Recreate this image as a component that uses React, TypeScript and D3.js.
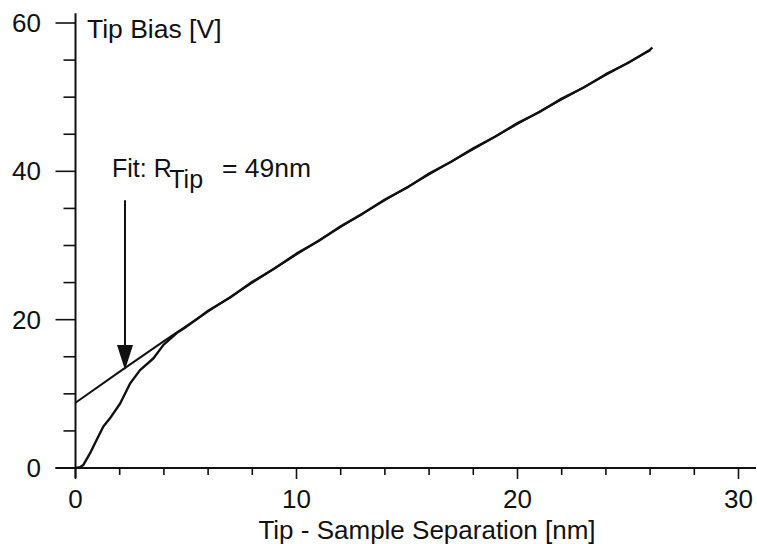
import React, { useEffect, useRef } from 'react';
import * as d3 from 'd3';

// measured tip bias vs separation
const sepData = [0, 0.2, 0.35, 0.66, 0.96, 1.26, 1.56, 2.02, 2.47, 2.92, 3.53, 3.98, 4.58, 4.9, 5.5, 6, 7, 8, 9, 10, 11, 12, 13, 14, 15, 16, 17, 18, 19, 20, 21, 22, 23, 24, 25, 26, 26.1];
const biasData = [0, 0.1, 0.4, 2.0, 3.8, 5.6, 6.7, 8.7, 11.4, 13.2, 14.8, 16.6, 18.2, 18.8, 20.1, 21.2, 23.0, 25.1, 26.9, 28.9, 30.6, 32.6, 34.3, 36.2, 37.8, 39.7, 41.3, 43.1, 44.7, 46.5, 48.0, 49.8, 51.3, 53.1, 54.6, 56.4, 56.7];

// fitted curve (R_tip = 49nm)
const fitSep = [0, 2, 4, 6, 8, 10, 12, 14, 16, 18, 20, 22, 24, 26];
const fitBias = [8.8, 13.0, 17.1, 21.1, 25.0, 28.8, 32.5, 36.1, 39.6, 43.0, 46.4, 49.7, 53.0, 56.3];

const xMajor = [0, 10, 20, 30];
const xMinor = [2, 4, 6, 8, 12, 14, 16, 18, 22, 24, 26, 28];
const yMajor = [0, 20, 40, 60];
const yMinor = [5, 10, 15, 25, 30, 35, 45, 50, 55];

// arrow annotation in data units
const arrowX = 2.24;
const arrowFrom = 36.1;
const arrowTo = 13.2;

const width = 757;
const height = 544;
const font = '"Liberation Sans", Arial, Helvetica, sans-serif';

const App: React.FC = () => {
  const svgRef = useRef<SVGSVGElement>(null);

  useEffect(() => {
    if (!svgRef.current) return;
    const svg = d3.select(svgRef.current);
    svg.selectAll('*').remove();

    const x = d3.scaleLinear().domain([0, 30]).range([75.5, 738.5]);
    const y = d3.scaleLinear().domain([0, 60]).range([468, 23]);

    const ink = '#111';
    const g = svg.append('g');

    // axes lines
    g.append('line')
      .attr('x1', x(0)).attr('x2', x(0))
      .attr('y1', y(61.3)).attr('y2', y(0) + 10)
      .attr('stroke', ink).attr('stroke-width', 2);
    g.append('line')
      .attr('x1', x(0) - 20).attr('x2', 756)
      .attr('y1', y(0)).attr('y2', y(0))
      .attr('stroke', ink).attr('stroke-width', 2);

    // y ticks
    g.selectAll('.ymaj').data(yMajor).enter().append('line')
      .attr('x1', x(0) - 20).attr('x2', x(0))
      .attr('y1', d => y(d)).attr('y2', d => y(d))
      .attr('stroke', ink).attr('stroke-width', 1.6);
    g.selectAll('.ymin').data(yMinor).enter().append('line')
      .attr('x1', x(0) - 12).attr('x2', x(0))
      .attr('y1', d => y(d)).attr('y2', d => y(d))
      .attr('stroke', ink).attr('stroke-width', 1.6);
    g.selectAll('.ylab').data(yMajor).enter().append('text')
      .attr('x', 41).attr('y', d => y(d) + 9)
      .attr('text-anchor', 'end')
      .attr('font-family', font).attr('font-size', 26)
      .attr('fill', ink)
      .text(d => d);

    // x ticks
    g.selectAll('.xmaj').data(xMajor).enter().append('line')
      .attr('x1', d => x(d)).attr('x2', d => x(d))
      .attr('y1', y(0)).attr('y2', y(0) + 11)
      .attr('stroke', ink).attr('stroke-width', 1.6);
    g.selectAll('.xmin').data(xMinor).enter().append('line')
      .attr('x1', d => x(d)).attr('x2', d => x(d))
      .attr('y1', y(0)).attr('y2', y(0) + 7)
      .attr('stroke', ink).attr('stroke-width', 1.6);
    g.selectAll('.xlab').data(xMajor).enter().append('text')
      .attr('x', d => x(d)).attr('y', 508)
      .attr('text-anchor', 'middle')
      .attr('font-family', font).attr('font-size', 26)
      .attr('fill', ink)
      .text(d => d);

    // titles
    g.append('text')
      .attr('x', 427).attr('y', 539)
      .attr('text-anchor', 'middle')
      .attr('font-family', font).attr('font-size', 26)
      .attr('fill', ink)
      .text('Tip - Sample Separation [nm]');
    g.append('text')
      .attr('x', 87).attr('y', 38)
      .attr('font-family', font).attr('font-size', 26.5)
      .attr('fill', ink)
      .text('Tip Bias [V]');

    // curves
    const line = d3.line<[number, number]>()
      .x(d => x(d[0]))
      .y(d => y(d[1]));

    g.append('path')
      .datum(fitSep.map((s, i) => [s, fitBias[i]] as [number, number]))
      .attr('fill', 'none').attr('stroke', ink).attr('stroke-width', 2)
      .attr('d', line.curve(d3.curveMonotoneX));

    g.append('path')
      .datum(sepData.map((s, i) => [s, biasData[i]] as [number, number]))
      .attr('fill', 'none').attr('stroke', ink).attr('stroke-width', 2.4)
      .attr('stroke-linejoin', 'round')
      .attr('d', line.curve(d3.curveLinear));

    // arrow
    const ax = x(arrowX);
    const tipY = y(arrowTo);
    g.append('line')
      .attr('x1', ax).attr('x2', ax)
      .attr('y1', y(arrowFrom)).attr('y2', tipY - 20)
      .attr('stroke', ink).attr('stroke-width', 2);
    g.append('path')
      .attr('d', `M${ax - 8},${tipY - 25}L${ax + 8},${tipY - 25}L${ax},${tipY}Z`)
      .attr('fill', ink);

    // fit label
    const lab = g.append('text')
      .attr('x', 112).attr('y', 177)
      .attr('font-family', font).attr('font-size', 25)
      .attr('fill', ink);
    lab.append('tspan').text('Fit: R');
    lab.append('tspan').attr('dx', -2).attr('dy', 11).text('Tip');
    g.append('text')
      .attr('x', 222).attr('y', 177)
      .attr('font-family', font).attr('font-size', 26.5)
      .attr('fill', ink)
      .text('= 49nm');
  }, []);

  return (
    <svg
      ref={svgRef}
      width={width}
      height={height}
      style={{ position: 'absolute', left: 0, top: 0, background: '#fff' }}
    />
  );
};

export default App;
